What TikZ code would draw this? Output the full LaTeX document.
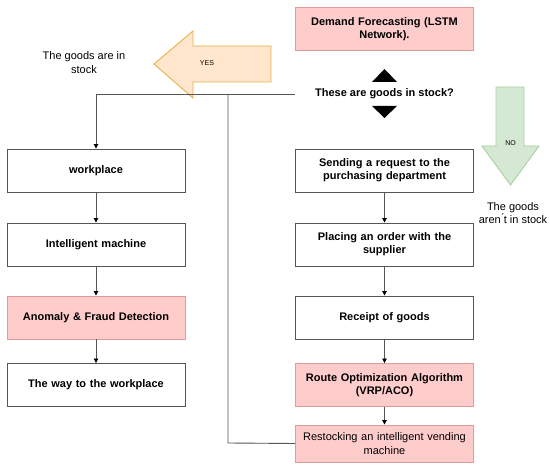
\documentclass[tikz,border=0pt]{standalone}
\usepackage{fontspec}
\setmainfont{Liberation Sans}
\usetikzlibrary{arrows.meta}
\definecolor{pinkfill}{HTML}{FFCCCC}
\definecolor{pinkline}{HTML}{E09A9A}
\definecolor{boxline}{HTML}{555555}
\definecolor{orfill}{HTML}{FFE6CC}
\definecolor{orline}{HTML}{E8B04A}
\definecolor{grfill}{HTML}{D5E8D4}
\definecolor{grline}{HTML}{A8D0A0}
\begin{document}
\begin{tikzpicture}[x=1pt,y=-1pt,
  box/.style={draw=boxline,line width=0.9pt,fill=white,minimum width=178pt,minimum height=43pt,
    inner sep=2pt,align=center,font=\fontsize{11}{13.3}\selectfont\bfseries,text width=170pt},
  pinkbox/.style={box,fill=pinkfill,draw=pinkline},
  conn/.style={draw=boxline,line width=0.9pt},
  arr/.style={conn,-{Triangle[length=4.5pt,width=4.5pt,color=black]}},
  plain/.style={font=\fontsize{11}{13.3}\selectfont,align=center}]
\useasboundingbox (0,0) rectangle (550,470);
\fill[white] (0,0) rectangle (550,470);

% top
\node[pinkbox] (demand) at (384.5,29) {Demand Forecasting (LSTM\\Network).};
\fill[black] (372,82) -- (397,82) -- (384.5,69) -- cycle;
\fill[black] (372,106) -- (397,106) -- (384.5,118) -- cycle;
\node[font=\fontsize{11}{13.3}\selectfont\bfseries,inner sep=1pt,minimum width=179pt] (q) at (384.5,94) {These are goods in stock?};

% YES arrow
\draw[draw=orline,fill=orfill,line width=0.9pt,line join=miter]
  (271,46) -- (193,46) -- (193,31) -- (154,64) -- (193,98) -- (193,82) -- (271,82) -- cycle;
\node[font=\fontsize{7}{8}\selectfont,inner sep=1pt] (yes) at (207,63) {YES};
\node[plain] (instock) at (84,62.5) {The goods are in\\stock};

% NO arrow
\draw[draw=grline,fill=grfill,line width=0.9pt,line join=miter]
  (496,87) -- (524,87) -- (524,146) -- (539,146) -- (510.5,185) -- (482,146) -- (496,146) -- cycle;
\node[font=\fontsize{7}{8}\selectfont,inner sep=1pt] (no) at (510.5,143) {NO};
\node[plain] (notstock) at (513,213) {The goods\\aren\'{}t in stock};

% left column
\node[box] (work) at (96,170.5) {workplace};
\node[box] (intel) at (96,244.5) {Intelligent machine};
\node[pinkbox] (anom) at (96,317.5) {Anomaly \& Fraud Detection};
\node[box] (way) at (96,385) {The way to the workplace};

% right column
\node[box] (send) at (384.5,170.5) {Sending a request to the\\purchasing department};
\node[box] (place) at (384.5,244.5) {Placing an order with the\\supplier};
\node[box] (rec) at (384.5,317.5) {Receipt of goods};
\node[pinkbox] (route) at (384.5,385) {Route Optimization Algorithm\\(VRP/ACO)};
\node[pinkbox,minimum height=37pt,font=\fontsize{11}{13.3}\selectfont] (rest) at (384.5,443.5) {Restocking an intelligent vending\\machine};

% connectors
\coordinate (tl) at (96,94);
\coordinate (tm) at (228,94);
\coordinate (bm) at (228,443);
\draw[conn] (q.west) -- (tl);
\draw[arr] (tl) -- (work.north);
\draw[conn] (tm) -- (bm) -- (rest.west);
\draw[arr] (work) -- (intel);
\draw[arr] (intel) -- (anom);
\draw[arr] (anom) -- (way);
\draw[arr] (send) -- (place);
\draw[arr] (place) -- (rec);
\draw[arr] (rec) -- (route);
\draw[arr] (route) -- (rest);
\end{tikzpicture}
\end{document}
